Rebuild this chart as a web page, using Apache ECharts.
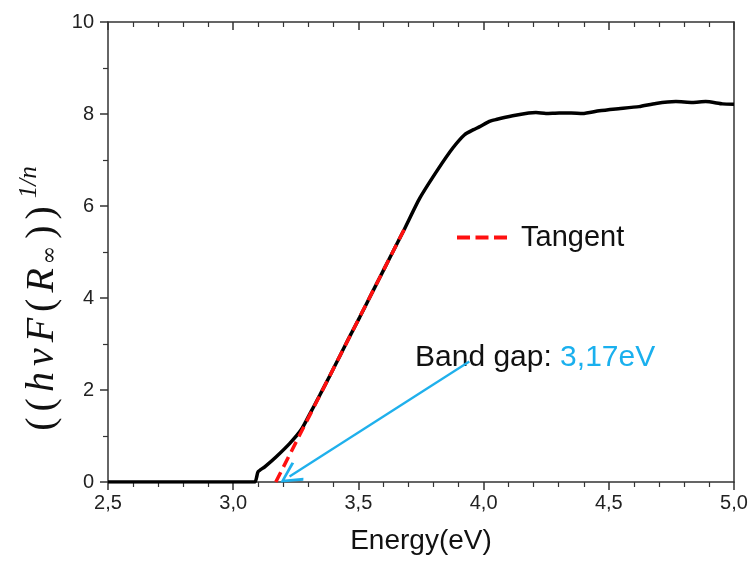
<!DOCTYPE html>
<html>
<head>
<meta charset="utf-8">
<script src="https://cdn.jsdelivr.net/npm/echarts@6/dist/echarts.min.js"></script>
<style>
  html, body { margin: 0; padding: 0; background: #fff; }
  #chart { width: 749px; height: 562px; }
</style>
</head>
<body>
<div id="chart"></div>
<script>
var energy = [2.50, 3.00, 3.086, 3.099, 3.126, 3.172, 3.226, 3.272, 3.305, 3.345, 3.385, 3.425, 3.465, 3.505,
  3.545, 3.585, 3.624, 3.684, 3.744, 3.817, 3.877, 3.924, 3.96, 3.983, 4.023, 4.05, 4.116, 4.18, 4.209,
  4.249, 4.302, 4.35, 4.395, 4.462, 4.528, 4.621, 4.688, 4.768, 4.834, 4.887, 4.954, 5.0];
var absorb = [0, 0, 0, 0.22, 0.33, 0.55, 0.84, 1.14, 1.47, 1.88, 2.30, 2.73, 3.16, 3.58,
  4.01, 4.44, 4.86, 5.50, 6.16, 6.79, 7.26, 7.55, 7.66, 7.72, 7.84, 7.88, 7.96, 8.02, 8.03,
  8.01, 8.02, 8.02, 8.01, 8.07, 8.11, 8.16, 8.23, 8.27, 8.25, 8.27, 8.22, 8.21];

// tangent line end points
var tangentX = [3.17, 3.684];
var tangentY = [0, 5.5];

// arrow pointing at the band gap
var arrowFrom = [3.943, 2.62];
var arrowTo = [3.225, 0.12];

var xTicks = { min: 2.5, max: 5.0, step: 0.5 };
var yTicks = { min: 0, max: 10, step: 2 };

var chart = echarts.init(document.getElementById('chart'));

var curveData = energy.map(function (e, i) { return [e, absorb[i]]; });
var tangentData = tangentX.map(function (e, i) { return [e, tangentY[i]]; });

var axisColor = '#333';
var font = 'Liberation Sans, Arial, sans-serif';
var serif = 'Liberation Serif, serif';
var red = '#ff1010';

// y axis title, one token per glyph so it can be spaced out
var gap = [0, 3, 0, 3];
var yRich = {
  p: { fontFamily: serif, fontSize: 40, fill: '#111', lineHeight: 50, verticalAlign: 'middle', padding: gap },
  i: { fontFamily: serif, fontStyle: 'italic', fontSize: 40, fill: '#111', lineHeight: 50, verticalAlign: 'middle', padding: gap },
  sub: { fontFamily: 'DejaVu Serif, serif', fontSize: 22, fill: '#111', lineHeight: 50, verticalAlign: 'bottom', padding: [0, 4, 6, 1] },
  sup: { fontFamily: serif, fontStyle: 'italic', fontSize: 25, fill: '#111', lineHeight: 50, verticalAlign: 'top', padding: [0, 0, 0, 5] }
};
var yTitle = '{p|(}{p|(}{i|h}{i|ν}{i|F}{p|(}{i|R}{sub|∞}{p|)}{p|)}{sup|1/n}';

var option = {
  animation: false,
  backgroundColor: '#fff',
  grid: { left: 108, right: 15, top: 22, bottom: 80, containLabel: false, outerBoundsMode: 'none' },
  legend: {
    data: [{
      name: 'Tangent',
      icon: 'path://M0,0 h13 v4 h-13 Z M18.5,0 h13 v4 h-13 Z M37,0 h13 v4 h-13 Z',
      itemStyle: { color: red, borderWidth: 0 },
      lineStyle: { width: 0, opacity: 0 }
    }],
    left: 452,
    top: 218,
    itemWidth: 50,
    itemHeight: 4,
    itemGap: 18,
    textStyle: { fontFamily: font, fontSize: 29, color: '#111', padding: [0, 0, 0, 9] }
  },
  xAxis: [{
    type: 'value',
    min: xTicks.min, max: xTicks.max, interval: xTicks.step,
    name: 'Energy(eV)',
    nameLocation: 'middle',
    nameGap: 45,
    nameTextStyle: { fontFamily: font, fontSize: 28, color: '#111' },
    axisLine: { show: true, onZero: false, lineStyle: { color: axisColor, width: 1.5 } },
    axisTick: { show: true, inside: false, length: 8, lineStyle: { color: axisColor, width: 1.5 } },
    minorTick: { show: true, splitNumber: 5, length: 5, lineStyle: { color: axisColor, width: 1.2 } },
    splitLine: { show: false },
    axisLabel: {
      margin: 11, fontFamily: font, fontSize: 20, color: '#222',
      formatter: function (v) { return v.toFixed(1).replace('.', ','); }
    }
  }, {
    type: 'value',
    position: 'top',
    min: xTicks.min, max: xTicks.max, interval: xTicks.step,
    axisLine: { show: true, onZero: false, lineStyle: { color: axisColor, width: 1.5 } },
    axisTick: { show: true, inside: true, length: 8, lineStyle: { color: axisColor, width: 1.5 } },
    minorTick: { show: true, splitNumber: 5, length: 5, lineStyle: { color: axisColor, width: 1.2 } },
    splitLine: { show: false },
    axisLabel: { show: false }
  }],
  yAxis: [{
    type: 'value',
    min: yTicks.min, max: yTicks.max, interval: yTicks.step,
    axisLine: { show: true, onZero: false, lineStyle: { color: axisColor, width: 1.5 } },
    axisTick: { show: true, inside: false, length: 8, lineStyle: { color: axisColor, width: 1.5 } },
    minorTick: { show: true, splitNumber: 2, length: 5, lineStyle: { color: axisColor, width: 1.2 } },
    splitLine: { show: false },
    axisLabel: { margin: 14, fontFamily: font, fontSize: 20, color: '#222' }
  }, {
    type: 'value',
    position: 'right',
    min: yTicks.min, max: yTicks.max, interval: yTicks.step,
    axisLine: { show: true, onZero: false, lineStyle: { color: axisColor, width: 1.5 } },
    axisTick: { show: false },
    splitLine: { show: false },
    axisLabel: { show: false }
  }],
  series: [{
    name: 'curve',
    type: 'line',
    data: curveData,
    showSymbol: false,
    smooth: 0.2,
    lineStyle: { color: '#000', width: 3.5 },
    z: 2
  }, {
    name: 'Tangent',
    type: 'line',
    data: tangentData,
    showSymbol: false,
    symbol: 'none',
    itemStyle: { color: red },
    lineStyle: { color: red, width: 3.5, type: [11, 6] },
    z: 3,
    markLine: {
      silent: true,
      symbol: ['none', 'path://M5,0 L10,8.5 L8.9,9.2 L5,2.3 L1.1,9.2 L0,8.5 Z'],
      symbolSize: [22, 22],
      label: { show: false },
      lineStyle: { color: '#1fb0ec', width: 2.3, type: 'solid' },
      data: [[{ coord: arrowFrom }, { coord: arrowTo }]]
    }
  }],
  graphic: [{
    type: 'text',
    left: 415,
    top: 343,
    style: {
      text: '{b|Band gap: }{c|3,17eV}',
      rich: {
        b: { fontFamily: font, fontSize: 30, fill: '#111' },
        c: { fontFamily: font, fontSize: 30, fill: '#1ab0ee' }
      }
    }
  }, {
    type: 'text',
    x: 42,
    y: 300,
    rotation: Math.PI / 2,
    style: {
      text: yTitle,
      align: 'center',
      verticalAlign: 'middle',
      rich: yRich
    }
  }]
};

chart.setOption(option);
</script>
</body>
</html>
